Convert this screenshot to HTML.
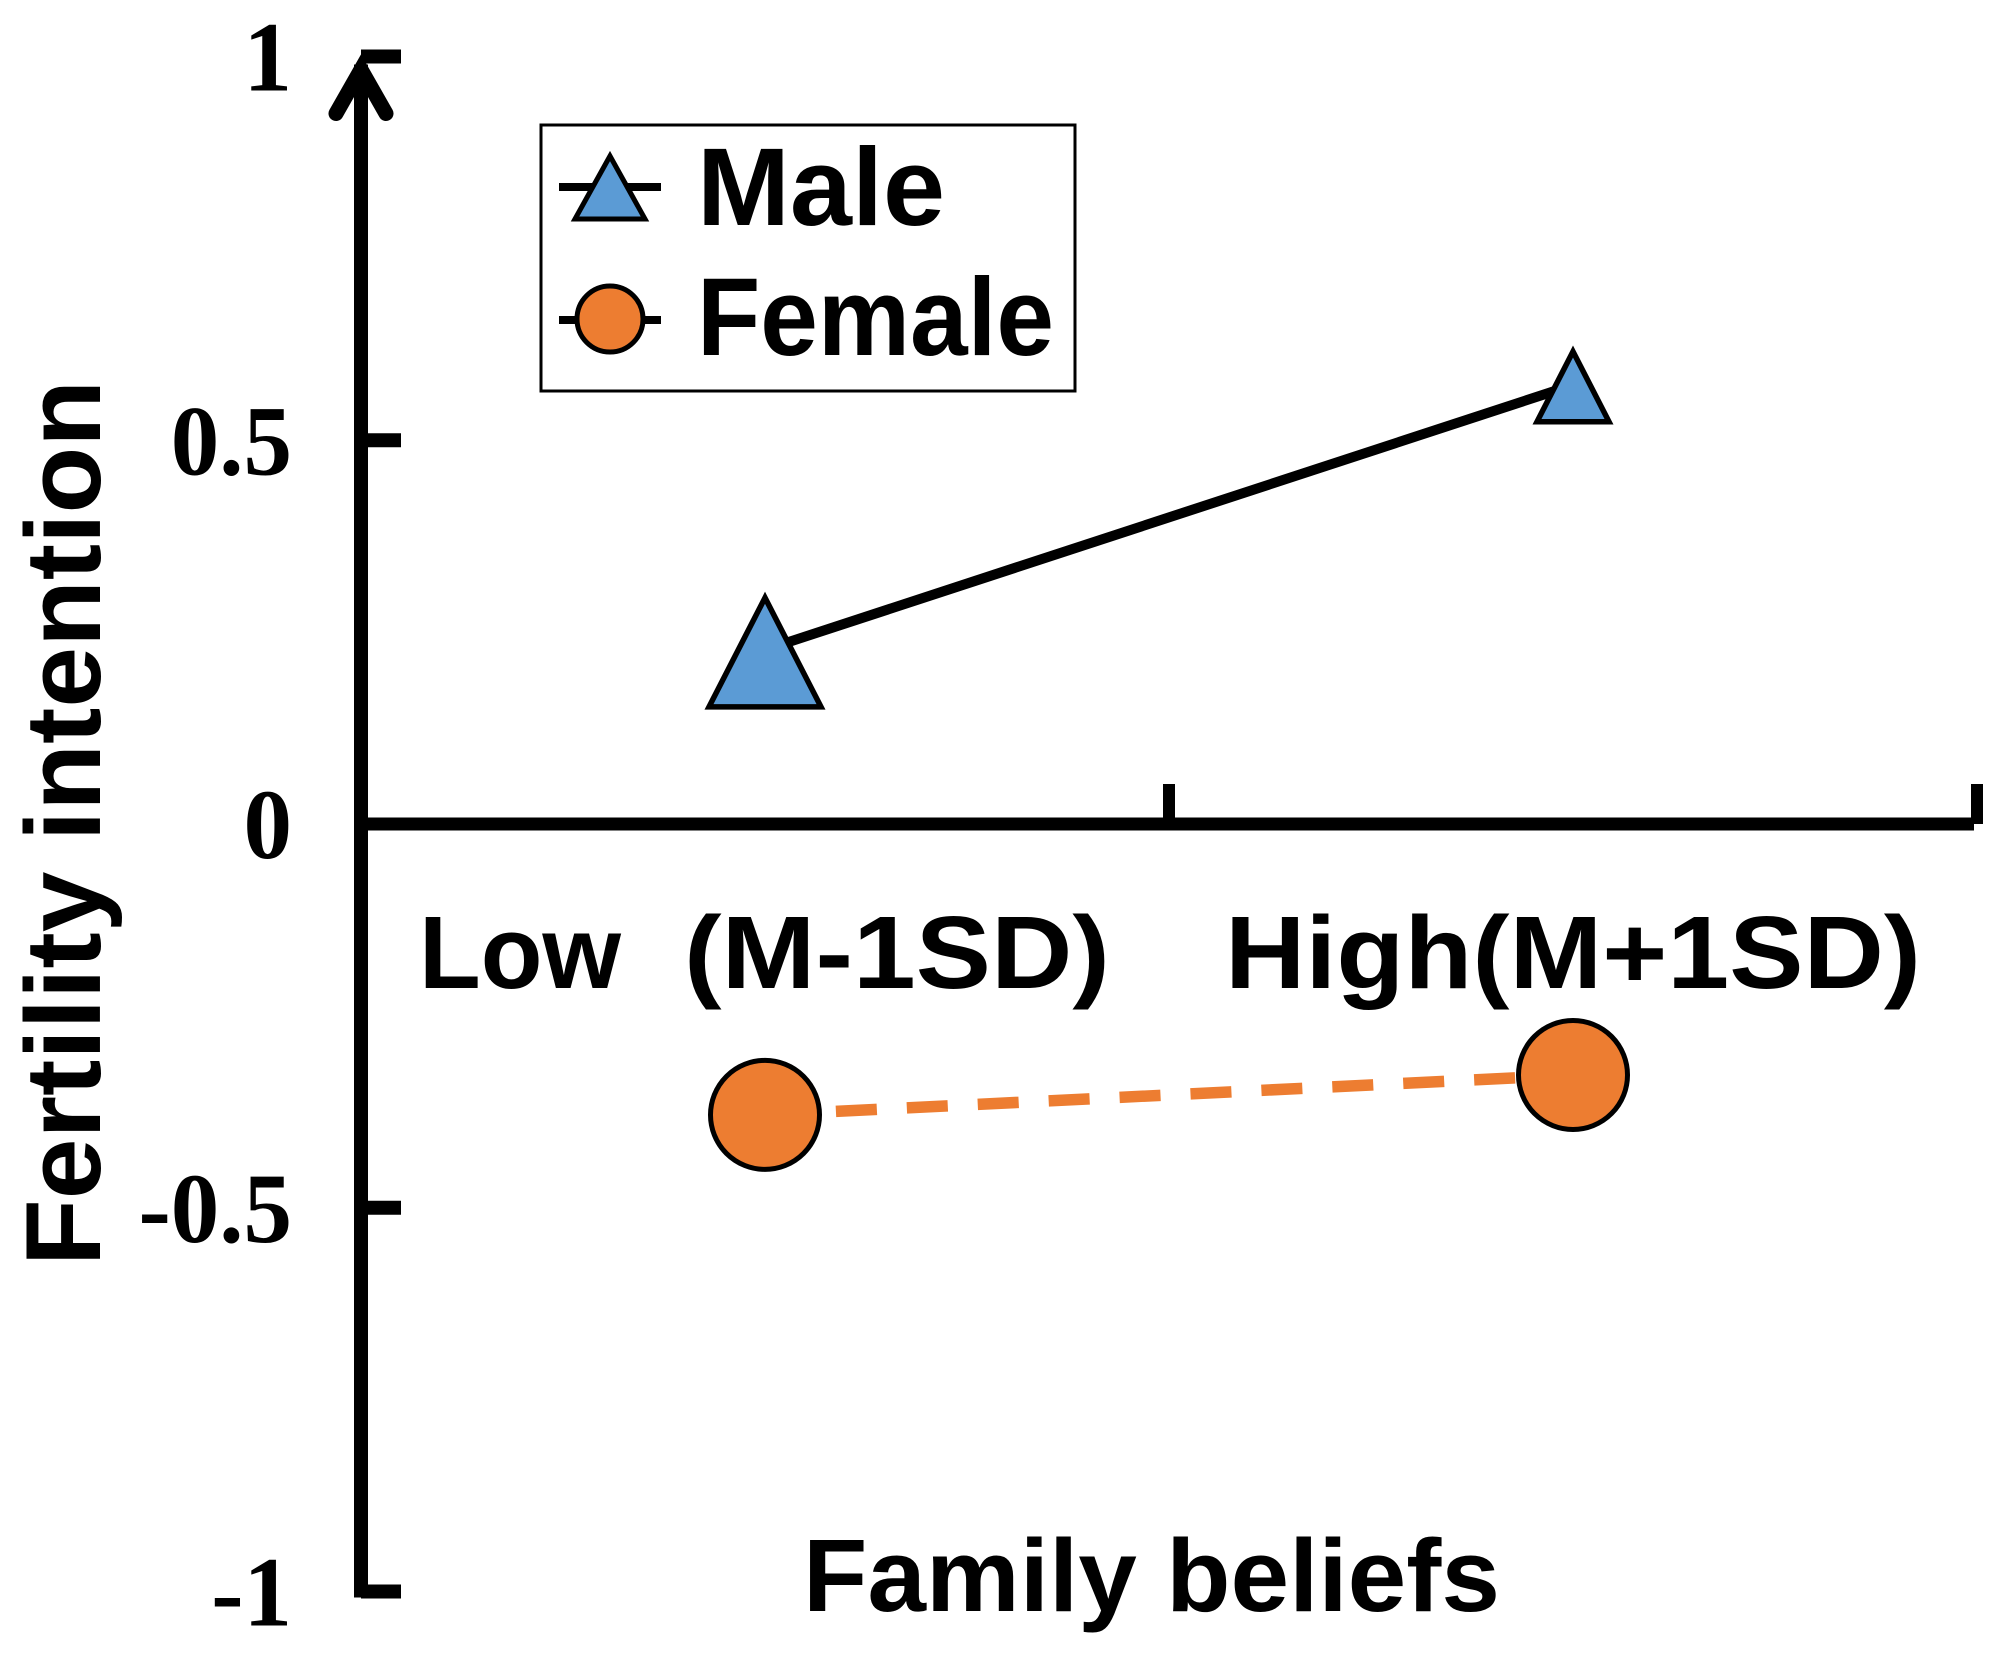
<!DOCTYPE html>
<html lang="en">
<head>
<meta charset="utf-8">
<title>Fertility intention by family beliefs</title>
<style>
html,body{margin:0;padding:0;background:#fff;width:1995px;height:1654px;overflow:hidden}
svg{display:block}
.sans{font-family:"Liberation Sans",sans-serif;font-weight:700;fill:#000}
.serif{font-family:"Liberation Serif",serif;font-weight:700;fill:#000}
</style>
</head>
<body>
<svg id="chart" xmlns="http://www.w3.org/2000/svg" width="1995" height="1654" viewBox="0 0 1995 1654">
  <rect x="0" y="0" width="1995" height="1654" fill="#fff"/>
  <g id="axes"></g>
  <g id="series"></g>

  <text class="sans" font-size="107" textLength="886" lengthAdjust="spacingAndGlyphs" transform="translate(100 1266) rotate(-90)">Fertility intention</text>
  <text class="sans" font-size="103" x="803" y="1611" textLength="697" lengthAdjust="spacingAndGlyphs">Family beliefs</text>

  <g>
    <rect x="541" y="125" width="534" height="266" fill="#fff" stroke="#000" stroke-width="3"/>
    <g>
      <line x1="559" y1="187" x2="661" y2="187" stroke="#000" stroke-width="8"/>
      <polygon points="610,156 575,219 645,219" fill="#5B9BD5" stroke="#000" stroke-width="5"/>
      <text class="sans" font-size="110" x="697" y="225" textLength="248" lengthAdjust="spacingAndGlyphs">Male</text>
    </g>
    <g>
      <line x1="559" y1="320" x2="661" y2="320" stroke="#000" stroke-width="8"/>
      <circle cx="610" cy="319" r="33" fill="#ED7D31" stroke="#000" stroke-width="5"/>
      <text class="sans" font-size="110" x="697" y="355" textLength="357" lengthAdjust="spacingAndGlyphs">Female</text>
    </g>
  </g>
</svg>
<script>
const categories = ["Low  (M-1SD)", "High(M+1SD)"];
const maleValues = [0.227, 0.572];
const femaleValues = [-0.379, -0.327];
const yTickValues = [1, 0.5, 0, -0.5, -1];
const yTickLabels = ["1", "0.5", "0", "-0.5", "-1"];

const NS = "http://www.w3.org/2000/svg";
const plot = { left: 361, right: 1977, zeroY: 824, unit: 767.5 };
const maleMarkerSize = [56, 36];
const femaleMarkerRadius = 54.5;
const categoryPartOffsets = [[-346, -81], [-348]];
const categoryPartWidths = [[202, 426], [696]];

function yScale(v) { return plot.zeroY - v * plot.unit; }
function bandWidth() { return (plot.right - plot.left) / categories.length; }
function xEdge(i) { return plot.left + bandWidth() * i; }
function xScale(i) { return xEdge(i) + bandWidth() / 2; }
function make(tag, parent, attrs) {
  const el = document.createElementNS(NS, tag);
  for (const k in attrs) el.setAttribute(k, attrs[k]);
  parent.appendChild(el);
  return el;
}

const axes = document.getElementById("axes");
const series = document.getElementById("series");
const AXIS_W = 14;

const yAxis = make("line", axes, { x1: plot.left, y1: yScale(1) + 8, x2: plot.left, y2: yScale(-1) + 6, stroke: "#000", "stroke-width": AXIS_W });



const arrow = make("polyline", axes, { points: [plot.left - 25, yScale(1) + 57, plot.left, yScale(1) + 13, plot.left + 25, yScale(1) + 57].join(","), fill: "none", stroke: "#000", "stroke-width": 15, "stroke-linecap": "round", "stroke-linejoin": "miter" });



const xAxis = make("line", axes, { x1: plot.left, y1: yScale(0), x2: plot.right - 3, y2: yScale(0), stroke: "#000", "stroke-width": 13 });



yTickValues.forEach(function (v, i) {
  if (v !== 0) {
    const tick = make("line", axes, { x1: plot.left, y1: yScale(v), x2: plot.left + 40, y2: yScale(v), stroke: "#000", "stroke-width": AXIS_W });
    
    
  }
  const label = make("text", axes, { transform: "translate(292 " + (yScale(v) + 34) + ") scale(0.97 1)", "text-anchor": "end", "font-size": 100, "class": "serif" });
  
  
  label.textContent = yTickLabels[i];
});

categories.forEach(function (c, i) {
  const tick = make("line", axes, { x1: xEdge(i + 1), y1: yScale(0) - 40, x2: xEdge(i + 1), y2: yScale(0), stroke: "#000", "stroke-width": 12 });
  
  
  c.split("  ").forEach(function (part, p) {
    const label = make("text", axes, { x: xScale(i) + categoryPartOffsets[i][p], y: 988, "font-size": 103, "class": "sans", textLength: categoryPartWidths[i][p], lengthAdjust: "spacingAndGlyphs" });
    
    
    label.textContent = part;
  });
});

const maleLine = make("line", series, { x1: xScale(0), y1: yScale(maleValues[0]), x2: xScale(1), y2: yScale(maleValues[1]), stroke: "#000", "stroke-width": 10 });



const femaleLine = make("line", series, { x1: xScale(0), y1: yScale(femaleValues[0]), x2: xScale(1), y2: yScale(femaleValues[1]), stroke: "#ED7D31", "stroke-width": 11.5, "stroke-dasharray": "41 30" });



maleValues.forEach(function (v, i) {
  const cx = xScale(i), cy = yScale(v), s = maleMarkerSize[i];
  const pts = [cx, cy - 0.93 * s, cx - s, cy + 1.02 * s, cx + s, cy + 1.02 * s].join(",");
  const tri = make("polygon", series, { points: pts, fill: "#5B9BD5", stroke: "#000", "stroke-width": 5.5 });
  
  
});

femaleValues.forEach(function (v, i) {
  const dot = make("circle", series, { cx: xScale(i), cy: yScale(v), r: femaleMarkerRadius, fill: "#ED7D31", stroke: "#000", "stroke-width": 5 });
  
  
});
</script>
</body>
</html>
